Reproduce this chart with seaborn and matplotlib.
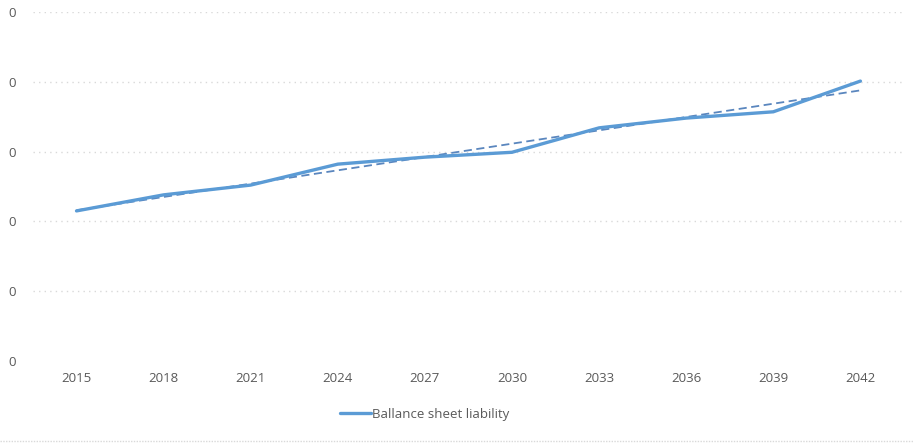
import matplotlib
matplotlib.use("Agg")
import matplotlib.pyplot as plt
from matplotlib.lines import Line2D
import seaborn as sns
import numpy as np
import pandas as pd

years = [2015, 2018, 2021, 2024, 2027, 2030, 2033, 2036, 2039, 2042]
liability = [2.15, 2.38, 2.52, 2.82, 2.92, 2.99, 3.34, 3.48, 3.57, 4.01]
y_ticks = [0, 1, 2, 3, 4, 5]
y_tick_labels = ["0", "0", "0", "0", "0", "0"]
series_name = "Ballance sheet liability"

df = pd.DataFrame({"idx": np.arange(len(years)), "year": years, "value": liability})

sns.set_theme(style="white")
plt.rcParams["font.family"] = ["Open Sans", "DejaVu Sans"]

fig = plt.figure(figsize=(9.13, 4.44), dpi=100)
ax = fig.add_axes([0.0361, 0.187, 0.954, 0.786])

blue = "#5B9BD5"
for v in y_ticks[1:]:
    ax.axhline(v, color="#D9D9D9", lw=1, ls=(0, (1, 3)), zorder=0)

sns.lineplot(data=df, x="idx", y="value", ax=ax, color=blue, lw=2.4,
             label=series_name, zorder=3)
sns.regplot(data=df, x="idx", y="value", ax=ax, scatter=False, ci=None,
            line_kws=dict(color="#5A86BE", lw=1.3, ls=(0, (4.5, 2.5))))

ax.set_xlim(-0.5, len(years) - 0.5)
ax.set_ylim(0, 5)
ax.set_xticks(df["idx"])
ax.set_xticklabels([str(y) for y in years], fontsize=9.5, color="#595959")
ax.set_yticks(y_ticks)
ax.set_yticklabels(y_tick_labels, fontsize=9.5, color="#595959")
ax.tick_params(axis="y", length=0, pad=12)
ax.tick_params(axis="x", length=0, pad=8)
ax.set_xlabel("")
ax.set_ylabel("")
for s in ax.spines.values():
    s.set_visible(False)

leg = ax.legend(handles=[Line2D([0], [0], color=blue, lw=2.4)], labels=[series_name],
                loc="center", bbox_to_anchor=(0.45, -0.152), frameon=False,
                fontsize=9.5, handlelength=2.3, handletextpad=0.1)
for t in leg.get_texts():
    t.set_color("#595959")

fig.add_artist(Line2D([0, 1], [1 - 441 / 444] * 2, transform=fig.transFigure,
                      color="#D9D9D9", lw=1, ls=(0, (1, 1))))

fig.savefig("out.png", dpi=100)
